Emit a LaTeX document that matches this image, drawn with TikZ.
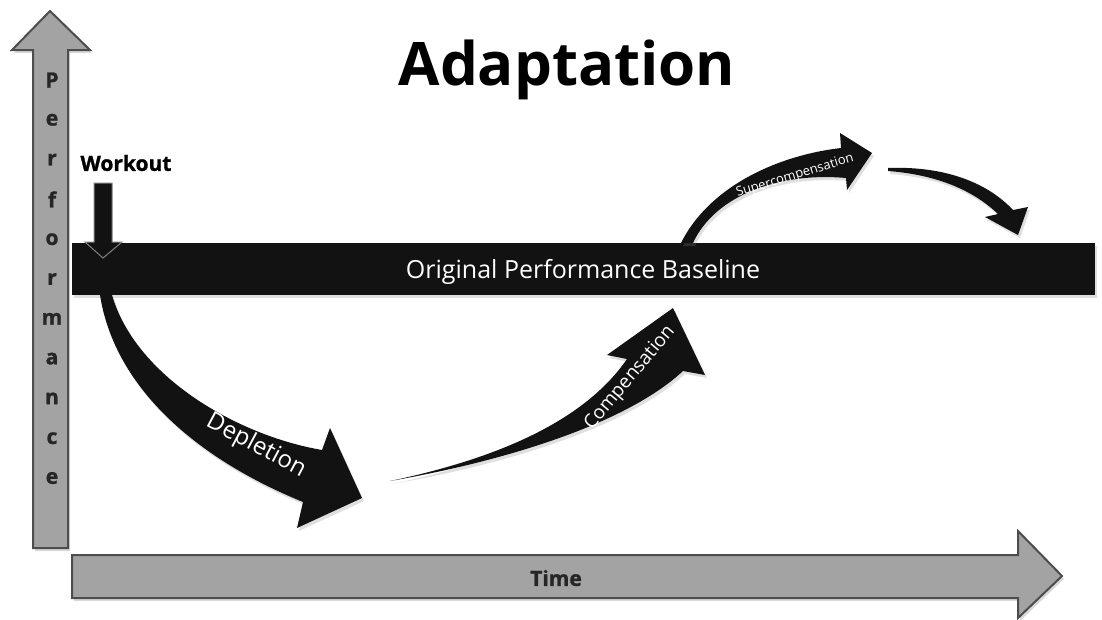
\documentclass[tikz,border=0pt]{standalone}
\usepackage{fontspec}
\setmainfont{Open Sans}
\newfontfamily\heavyfont{Open Sans}[BoldFeatures={FakeBold=1.2}]
\usetikzlibrary{shadows}
\definecolor{axisgray}{HTML}{A3A3A3}
\definecolor{axisedge}{HTML}{4D4D4D}
\definecolor{inkblack}{HTML}{121212}
\tikzstyle{axisarrow} = [draw=axisedge, line width=2pt, fill=axisgray, drop shadow={shadow xshift=2pt, shadow yshift=-3pt, opacity=0.3}]
\tikzstyle{bigarrow} = [fill=inkblack, drop shadow={shadow xshift=2pt, shadow yshift=-3pt, opacity=0.25}]
\tikzstyle{onblack} = [text=white, inner sep=0pt]
\tikzstyle{axislabel} = [text=black!85, font=\heavyfont\bfseries\fontsize{21}{22}\selectfont, inner sep=0pt]

\begin{document}
\begin{tikzpicture}[x=1pt, y=-1pt]
      \useasboundingbox (0,0) rectangle (1102,619);
      % axes
      \draw [axisarrow] (33,548) -- (33,50) -- (12,50) -- (50,11) -- (90,50) -- (68,50) -- (68,548) -- cycle;
      \draw [axisarrow] (72,555) -- (1018,555) -- (1018,531) -- (1062,576) -- (1018,618) -- (1018,598) -- (72,598) -- cycle;
      \foreach \ch [count=\i from 0] in {P,e,r,f,o,r,m,a,n,c,e}
        \node (perf\i) [axislabel] at (52,80+39.8*\i) {\ch};
      \node (time) [axislabel] at (556,578) {Time};
      \node (title) at (567,70) {\fontsize{60}{70}\selectfont\bfseries Adaptation};
      % baseline bar
      \node (baseline) [bigarrow, minimum width=1023pt, minimum height=52pt, anchor=north west] at (72,243) {};
      \node (basetext) [onblack, font=\fontsize{25}{28}\selectfont] at (583,272) {Original Performance Baseline};
      % workout
      \node (workout) [inner sep=0pt, font=\heavyfont\bfseries\fontsize{21}{22}\selectfont] at (126,163) {Workout};
      \draw [fill=inkblack, draw=gray, line width=1pt] (94,183) -- (112,183) -- (112,242) -- (122,242) -- (103,258) -- (85,242) -- (94,242) -- cycle;
      % depletion
      \fill [bigarrow] (100,295) .. controls (115,390) and (200,460) .. (303,502)
        -- (297,528) -- (362,498) -- (330,428) -- (322,450)
        .. controls (235,435) and (135,375) .. (112,295) -- cycle;
      \node (depletion) [onblack, rotate=-28, font=\fontsize{24}{28}\selectfont] at (256,446) {Depletion};
      % compensation
      \fill [bigarrow] (390,481) .. controls (500,462) and (625,425) .. (683,371)
        -- (705,375) -- (673,308) -- (607,355) -- (627,359)
        .. controls (585,420) and (500,458) .. (390,481) -- cycle;
      \node (compensation) [onblack, rotate=50, font=\fontsize{19}{22}\selectfont] at (630,378) {Compensation};
      % supercompensation
      \fill [bigarrow] (681,243) .. controls (710,185) and (780,155) .. (841,148)
        -- (840,133) -- (872,153) -- (847,190) -- (846,178)
        .. controls (780,172) and (715,195) .. (693,243) -- cycle;
      \node (supercomp) [onblack, rotate=17, font=\fontsize{13}{15}\selectfont] at (795,176) {Supercompensation};
      \fill [bigarrow] (888,168) .. controls (940,166) and (985,180) .. (1013,210)
        -- (1028,207) -- (1018,235) -- (985,217) -- (998,214)
        .. controls (975,192) and (940,175) .. (888,171) -- cycle;
    \end{tikzpicture}
\end{document}
